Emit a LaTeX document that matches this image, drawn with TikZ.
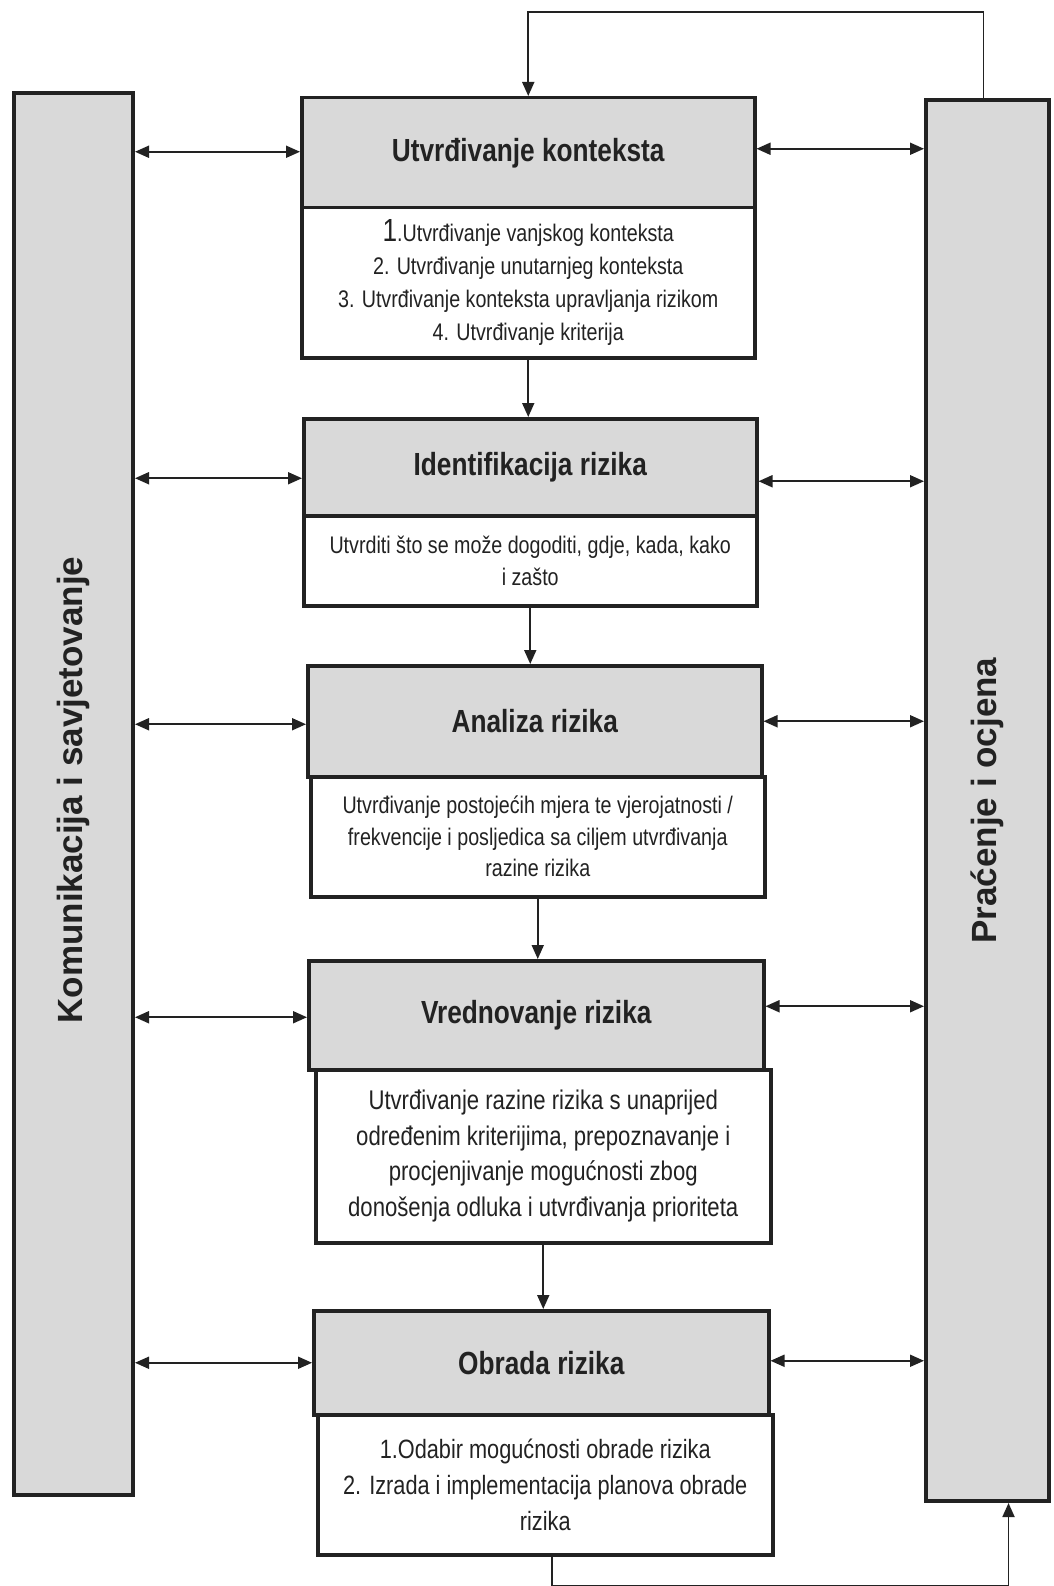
\documentclass[tikz,border=0pt]{standalone}
\usepackage{fontspec}
\setmainfont{Liberation Sans}[FakeStretch=0.82]
\newfontfamily\sidefont{Liberation Sans}
\usetikzlibrary{arrows.meta}
\definecolor{boxgray}{HTML}{D9D9D9}
\definecolor{ink}{HTML}{222222}
\tikzset{
  hdr/.style={draw=ink, line width=3.5pt, fill=boxgray, anchor=north west, inner sep=0pt,
    font=\bfseries\fontsize{32}{36}\selectfont, text=ink},
  bodybox/.style={draw=ink, line width=3.5pt, fill=white, anchor=north west, inner sep=0pt,
    align=center, text=ink},
  bar/.style={draw=ink, line width=4pt, fill=boxgray, anchor=north west, inner sep=0pt},
  bartext/.style={rotate=90, font=\sidefont\bfseries\fontsize{35}{38}\selectfont, text=ink},
  arr/.style={draw=ink, line width=1.8pt, -{Triangle[length=14pt,width=12pt]}},
  dbl/.style={draw=ink, line width=1.8pt, {Triangle[length=14pt,width=12pt]}-{Triangle[length=14pt,width=12pt]}},
}
\begin{document}
\begin{tikzpicture}[x=1pt,y=-1pt]
\useasboundingbox (0,0) rectangle (1053,1586);
\fill[white] (0,0) rectangle (1053,1586);

% side bars
\node[bar, minimum width=119pt, minimum height=1402pt] (L) at (12,91) {};
\node[bartext] (Lt) at ([yshift=4pt]L.center) {Komunikacija i savjetovanje};
\node[bar, minimum width=123pt, minimum height=1401pt] (R) at (924,98) {};
\node[bartext] (Rt) at (R.center) {Praćenje i ocjena};

% box 1
\node[hdr, minimum width=453pt, minimum height=110pt] (h1) at (300,96) {Utvrđivanje konteksta};
\node[bodybox, minimum width=453pt, minimum height=150pt,
  font=\fontsize{24}{33}\selectfont] (b1) at (300,206)
  {{\fontsize{32}{33}\selectfont 1}.Utvrđivanje vanjskog konteksta\\2. Utvrđivanje unutarnjeg konteksta\\3. Utvrđivanje konteksta upravljanja rizikom\\4. Utvrđivanje kriterija};

% box 2
\node[hdr, minimum width=453pt, minimum height=97pt] (h2) at (302,417) {Identifikacija rizika};
\node[bodybox, minimum width=453pt, minimum height=90pt,
  font=\fontsize{24}{31.5}\selectfont] (b2) at (302,514)
  {Utvrditi što se može dogoditi, gdje, kada, kako\\i zašto};

% box 3
\node[hdr, minimum width=454pt, minimum height=111pt] (h3) at (306,664) {Analiza rizika};
\node[bodybox, minimum width=454pt, minimum height=120pt,
  font=\fontsize{24}{31.5}\selectfont] (b3) at (309,775)
  {Utvrđivanje postojećih mjera te vjerojatnosti /\\frekvencije i posljedica sa ciljem utvrđivanja\\razine rizika};

% box 4
\node[hdr, minimum width=455pt, minimum height=109pt] (h4) at (307,959) {Vrednovanje rizika};
\node[bodybox, minimum width=455pt, minimum height=173pt,
  font=\fontsize{27}{35.5}\selectfont] (b4) at (314,1068)
  {Utvrđivanje razine rizika s unaprijed\\određenim kriterijima, prepoznavanje i\\procjenjivanje mogućnosti zbog\\donošenja odluka i utvrđivanja prioriteta};

% box 5
\node[hdr, minimum width=455pt, minimum height=104pt] (h5) at (312,1309) {Obrada rizika};
\node[bodybox, minimum width=455pt, minimum height=140pt,
  font=\fontsize{26.5}{36}\selectfont] (b5) at (316,1413)
  {1.Odabir mogućnosti obrade rizika\\2. Izrada i implementacija planova obrade\\rizika};

% vertical flow arrows
\draw[arr] (b1.south) -- (b1.south |- h2.north);
\draw[arr] (b2.south) -- (b2.south |- h3.north);
\draw[arr] (b3.south) -- (b3.south |- h4.north);
\draw[arr] (b4.south) -- (b4.south |- h5.north);

% horizontal double arrows
\coordinate (l1) at ([yshift=1pt]h1.west);
\coordinate (l2) at ([yshift=-11pt]h2.west);
\coordinate (l3) at ([yshift=-3pt]h3.west);
\coordinate (l4) at ([yshift=-2pt]h4.west);
\coordinate (l5) at (h5.west);
\coordinate (r1) at ([yshift=4pt]h1.east);
\coordinate (r2) at ([yshift=-14pt]h2.east);
\coordinate (r3) at (h3.east);
\coordinate (r4) at ([yshift=9pt]h4.east);
\coordinate (r5) at ([yshift=2pt]h5.east);
\foreach \i in {1,...,5} {
  \draw[dbl] (l\i -| L.east) -- (l\i);
  \draw[dbl] (r\i) -- (r\i -| R.west);
}

% feedback loop top
\coordinate (tl) at ([yshift=84pt]h1.north);
\coordinate (tr) at ([xshift=-4pt]R.north);
\draw[arr] (tr) |- (tl) -- (h1.north);

% feedback loop bottom
\coordinate (bt) at ([xshift=7pt,yshift=-29pt]b5.south);
\coordinate (rb) at ([xshift=21pt]R.south);
\draw[arr] ([xshift=7pt]b5.south) -- (bt) -| (rb);
\end{tikzpicture}
\end{document}
